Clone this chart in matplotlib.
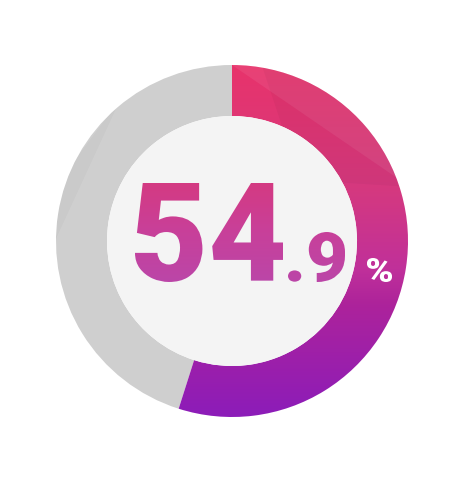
import numpy as np
import matplotlib
matplotlib.use('Agg')
import matplotlib.pyplot as plt
from matplotlib.patches import Wedge, Circle, PathPatch, Polygon
from matplotlib.textpath import TextPath
from matplotlib.font_manager import FontProperties, findfont
from matplotlib.transforms import Affine2D
from matplotlib.colors import LinearSegmentedColormap

# data
value = 54.9
big_label = '54'
small_label = '.9'
unit_label = '%'

W, H = 463, 480
cx, cy = 232, 239
r_out, r_in = 176, 125

ring_cmap = LinearSegmentedColormap.from_list(
    'ring', [(0.0, '#e8336b'), (0.35, '#d5397f'), (0.58, '#c0309a'),
             (0.68, '#ad239b'), (1.0, '#8c1cb9')])
text_cmap = LinearSegmentedColormap.from_list(
    'txt', [(0.0, '#d43a82'), (0.5, '#c8409a'), (1.0, '#bb46a8')])

fp = FontProperties(family='Roboto', weight=900)
print(findfont(fp))


def fitted_path(s, x0, y0, x1, y1):
    tp = TextPath((0, 0), s, size=100, prop=fp)
    ext = tp.get_extents()
    sx = (x1 - x0) / ext.width
    sy = (y1 - y0) / ext.height
    tr = Affine2D().translate(-ext.x0, -ext.y0).scale(sx, sy).translate(x0, y0)
    return tr.transform_path(tp)


fig = plt.figure(figsize=(W / 100, H / 100), dpi=100)
ax = fig.add_axes([0, 0, 1, 1])
ax.set_xlim(0, W)
ax.set_ylim(0, H)
ax.axis('off')

frac = value / 100.0
end_angle = 90
start_angle = 90 - 360 * frac

grey = Wedge((cx, cy), r_out, end_angle, start_angle + 360, width=r_out - r_in,
             facecolor='#cfcfcf', edgecolor='none')
ax.add_patch(grey)

ring = Wedge((cx, cy), r_out, start_angle, end_angle, width=r_out - r_in,
             facecolor='none', edgecolor='none')
ax.add_patch(ring)
grad = np.linspace(0, 1, 256).reshape(-1, 1)
im = ax.imshow(grad, cmap=ring_cmap, aspect='auto',
               extent=(cx - r_out, cx + r_out, cy - r_out, cy + r_out),
               origin='upper', zorder=1)
im.set_clip_path(ring)

# faint facets on the ring
facets = [([(232, 415), (232, 480), (420, 330), (400, 300)], 'white', 0.07),
          ([(60, 300), (0, 260), (0, 120), (120, 380)], 'black', 0.025),
          ([(240, 480), (300, 300), (460, 290), (460, 480)], 'black', 0.03)]
for pts, col, a in facets:
    poly = Polygon(pts, closed=True, facecolor=col, alpha=a, edgecolor='none', zorder=1.5)
    ax.add_patch(poly)
    poly.set_clip_path(Wedge((cx, cy), r_out, 0, 360, width=r_out - r_in,
                             transform=ax.transData))

ax.add_patch(Circle((cx, cy), r_in, facecolor='#f4f4f4', edgecolor='none', zorder=2))

# big number with gradient fill
p_big = fitted_path(big_label, 135, 198, 283, 297)
p_small = fitted_path(small_label, 288, 198, 345, 248)
for p in (p_big, p_small):
    patch = PathPatch(p, facecolor='none', edgecolor='none', zorder=3)
    ax.add_patch(patch)
    tim = ax.imshow(grad, cmap=text_cmap, aspect='auto',
                    extent=(130, 350, 198, 297), origin='upper', zorder=3)
    tim.set_clip_path(patch)

p_unit = fitted_path(unit_label, 367, 198, 392, 222)
ax.add_patch(PathPatch(p_unit, facecolor='white', edgecolor='none', zorder=4))

ax.set_xlim(0, W)
ax.set_ylim(0, H)
fig.savefig('out.png', dpi=100, facecolor='white')
